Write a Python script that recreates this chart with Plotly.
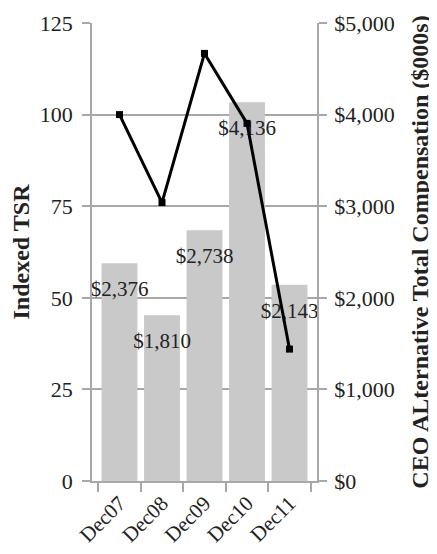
import plotly.graph_objects as go

categories = ["Dec07", "Dec08", "Dec09", "Dec10", "Dec11"]
compensation = [2376, 1810, 2738, 4136, 2143]          # $000s, right axis
indexed_tsr = [100, 76, 116.7, 97.6, 36]                # left axis
comp_labels = ["$2,376", "$1,810", "$2,738", "$4,136", "$2,143"]

left_ticks = [0, 25, 50, 75, 100, 125]
right_ticks = [0, 1000, 2000, 3000, 4000, 5000]
right_ticktext = ["$0", "$1,000", "$2,000", "$3,000", "$4,000", "$5,000"]

FONT = "Liberation Serif"
GRID = "#a8a8a8"
TXT = "#222222"

fig = go.Figure()

# bars on the (right-side) primary y axis
fig.add_trace(go.Bar(
    x=categories, y=compensation, yaxis="y",
    marker=dict(color="#c9c9c9", line=dict(width=0)),
    hoverinfo="skip", showlegend=False,
))

# value labels under bar tops
fig.add_trace(go.Scatter(
    x=categories, y=compensation, yaxis="y",
    mode="markers+text", text=comp_labels, textposition="bottom center",
    textfont=dict(family=FONT, size=21, color=TXT),
    marker=dict(size=26, opacity=0),
    hoverinfo="skip", showlegend=False,
))

# TSR line on the left (overlaying) axis, drawn above bars
fig.add_trace(go.Scatter(
    x=categories, y=indexed_tsr, yaxis="y2",
    mode="lines+markers",
    line=dict(color="black", width=3),
    marker=dict(symbol="square", size=7, color="black"),
    hoverinfo="skip", showlegend=False,
))

# page body has an 8px default margin: size the figure so the plot lands in place
fig.update_layout(
    width=429, height=546,
    margin=dict(l=84, r=120, t=15, b=73),
    paper_bgcolor="white", plot_bgcolor="white",
    font=dict(family=FONT, color=TXT),
    bargap=0.155,
    xaxis=dict(
        type="category", tickson="boundaries", ticks="outside", ticklen=9,
        tickcolor=GRID, tickwidth=1.5, automargin=False,
        showline=True, linecolor=GRID, linewidth=1.5,
        showgrid=False, tickangle=-45,
        tickfont=dict(family=FONT, size=21, color=TXT),
    ),
    yaxis=dict(
        side="right", range=[0, 5000], tickvals=right_ticks, ticktext=right_ticktext,
        ticks="outside", ticklen=8, tickcolor=GRID, tickwidth=1.5, automargin=False,
        ticklabelstandoff=3,
        showline=True, linecolor=GRID, linewidth=1.5,
        showgrid=True, gridcolor=GRID, gridwidth=1.5, zeroline=False,
        tickfont=dict(family=FONT, size=22, color=TXT),
        title=dict(text="<b>CEO ALternative Total Compensation ($000s)</b>",
                   font=dict(family=FONT, size=24, color=TXT), standoff=18),
    ),
    yaxis2=dict(
        side="left", overlaying="y", range=[0, 125], tickvals=left_ticks,
        ticks="outside", ticklen=8, tickcolor=GRID, tickwidth=1.5, automargin=False,
        ticklabelstandoff=5,
        showline=True, linecolor=GRID, linewidth=1.5,
        showgrid=False, zeroline=False,
        tickfont=dict(family=FONT, size=22, color=TXT),
        title=dict(text="<b>Indexed TSR</b>",
                   font=dict(family=FONT, size=24, color=TXT), standoff=10),
    ),
)

fig.write_html("out.html")
